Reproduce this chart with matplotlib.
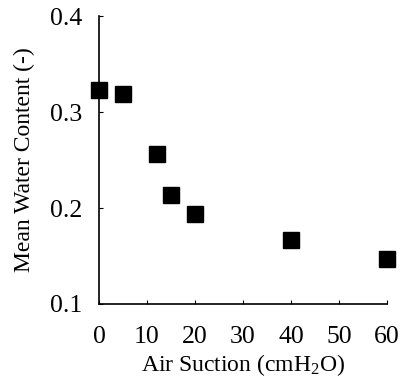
import matplotlib
matplotlib.use('Agg')
import matplotlib.pyplot as plt

# air suction (cmH2O) vs mean water content
suction = [0, 5, 12, 15, 20, 40, 60]
water_content = [0.323, 0.319, 0.256, 0.214, 0.194, 0.167, 0.147]
xticks = [0, 10, 20, 30, 40, 50, 60]
yticks = [0.1, 0.2, 0.3, 0.4]

plt.rcParams['font.family'] = ['Liberation Serif', 'DejaVu Serif']
plt.rcParams['mathtext.fontset'] = 'custom'
plt.rcParams['mathtext.rm'] = 'Liberation Serif'

fig = plt.figure(figsize=(4.03, 3.85), dpi=100)
ax = fig.add_axes([0.2457, 0.2104, 0.7143, 0.748])

ax.plot(suction, water_content, 's', color='black', markersize=11.5, clip_on=False, zorder=3)

ax.set_xlim(0, 60)
ax.set_ylim(0.1, 0.4)
ax.set_xticks(xticks)
ax.set_yticks(yticks)
ax.set_xticklabels([str(t) for t in xticks])
ax.set_yticklabels(['%.1f' % t for t in yticks])

ax.spines['top'].set_visible(False)
ax.spines['right'].set_visible(False)
ax.spines['left'].set_linewidth(1.2)
ax.spines['bottom'].set_linewidth(1.2)
ax.tick_params(axis='x', direction='in', length=3, pad=16, labelsize=18.5)
ax.tick_params(axis='y', direction='in', length=3, pad=12, labelsize=18.5)

ax.set_xlabel(r'Air Suction (cmH$\mathregular{_2}$O)', fontsize=17, labelpad=3)
ax.set_ylabel('Mean Water Content (-)', fontsize=17, labelpad=11)

fig.savefig('out.png', dpi=100)
